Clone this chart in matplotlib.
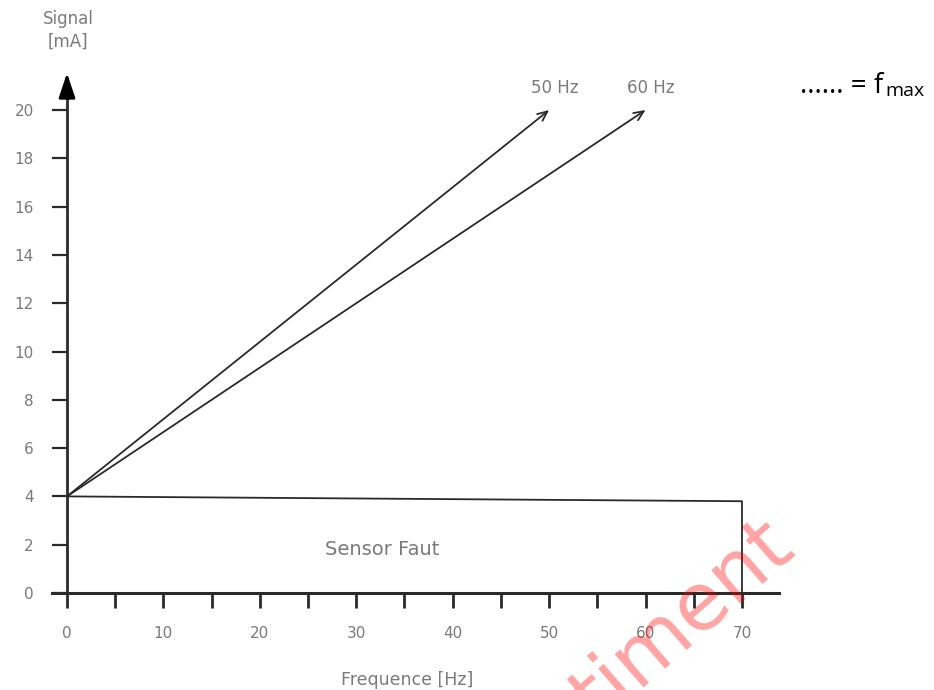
import matplotlib
matplotlib.use("Agg")
import matplotlib.pyplot as plt

# data
x_major = [0, 10, 20, 30, 40, 50, 60, 70]
x_minor = [5, 15, 25, 35, 45, 55, 65]
y_ticks = [0, 2, 4, 6, 8, 10, 12, 14, 16, 18, 20]

start = (0, 4)
end_50 = (50, 20)
end_60 = (60, 20)
fault_x = [0, 70, 70]
fault_y = [4, 3.8, 0]

gray = "#7a7a7a"
dark = "#2a2a2a"

fig = plt.figure(figsize=(9.34, 6.90), dpi=100)
W, H = 934, 690
# axes placed in pixels: x from 52 to 779 px, y from 60 to 620 px (top origin)
ax = fig.add_axes([52 / W, (H - 620) / H, 727 / W, 560 / H])
ax.set_xlim(-1.556, 73.84)
ax.set_ylim((593 - 620) / 24.15, (593 - 60) / 24.15)

for s in ["top", "right"]:
    ax.spines[s].set_visible(False)
ax.spines["left"].set_position(("data", 0))
ax.spines["bottom"].set_position(("data", 0))
ax.spines["left"].set_bounds(0, 20.8)
ax.spines["left"].set_linewidth(2.0)
ax.spines["bottom"].set_linewidth(2.2)
ax.spines["left"].set_color(dark)
ax.spines["bottom"].set_color(dark)

ax.set_xticks(x_major)
ax.set_xticks(x_minor, minor=True)
ax.set_yticks(y_ticks)
ax.tick_params(axis="x", which="both", direction="out", length=11, width=2.0,
               color=dark, pad=13, labelsize=11, labelcolor=gray)
ax.tick_params(axis="y", direction="out", length=11, width=1.6,
               color=dark, pad=13, labelsize=11, labelcolor=gray)

# y axis arrow head
ax.annotate("", xy=(0, 21.53), xytext=(0, 20.5),
            arrowprops=dict(arrowstyle="-|>,head_length=0.75,head_width=0.25",
                            mutation_scale=20, color="black", lw=2.0,
                            shrinkA=0, shrinkB=0))

# signal lines
for e in [end_50, end_60]:
    ax.annotate("", xy=e, xytext=start,
                arrowprops=dict(arrowstyle="->,head_length=0.5,head_width=0.22",
                                mutation_scale=14, color=dark, lw=1.3,
                                shrinkA=0, shrinkB=0))

ax.plot(fault_x, fault_y, color=dark, lw=1.3, clip_on=False)

ax.text(50.6, 20.9, "50 Hz", color=gray, fontsize=12, ha="center", va="center")
ax.text(60.5, 20.9, "60 Hz", color=gray, fontsize=12, ha="center", va="center")
ax.text(32.7, 1.82, "Sensor Faut", color=gray, fontsize=14, ha="center", va="center")
ax.text(35.3, -3.6, "Frequence [Hz]", color=gray, fontsize=12.5, ha="center",
        va="center", clip_on=False)
fig.text(68 / W, 1 - 30 / H, "Signal\n[mA]", color=gray, fontsize=12,
         ha="center", va="center", linespacing=1.35)

# f_max note: main part then subscript right after it
note = fig.text(800 / W, 1 - 93 / H, "...... = f", color="black",
                fontsize=20, family="Open Sans", ha="left", va="baseline")
fig.canvas.draw()
bb = note.get_window_extent()
fig.text((bb.x1 + 2) / W, 1 - 96 / H, "max", color="black",
         fontsize=14, family="Open Sans", ha="left", va="baseline")

# watermark
fig.text(798 / W, 1 - 552 / H, "timent", color="red", alpha=0.36,
         fontsize=58, rotation=41, rotation_mode="anchor",
         ha="right", va="baseline")

fig.savefig("out.png", dpi=100)
